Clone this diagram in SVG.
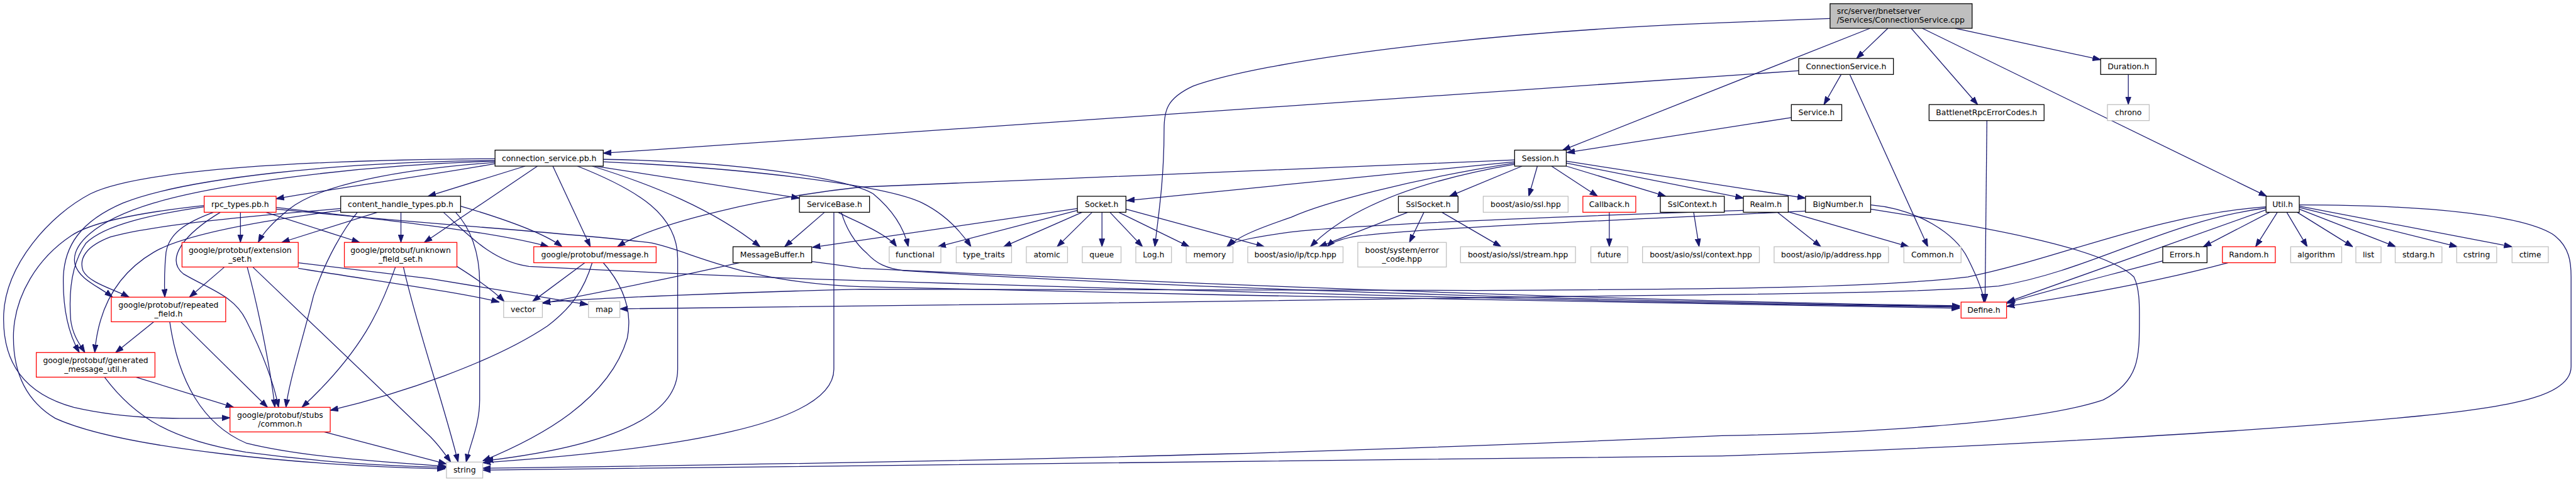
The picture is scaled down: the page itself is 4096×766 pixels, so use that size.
<svg xmlns="http://www.w3.org/2000/svg" width="4096" height="766" viewBox="0 0 4096 766">
<defs>
<style>
.n rect{fill:#fff;stroke:#000;stroke-width:1.3}
.n.r rect{stroke:#ff0000}
.n.g rect{stroke:#bfbfbf}
.n.root rect{fill:#bfbfbf;stroke:#000}
.n text{font-family:"DejaVu Sans","Liberation Sans",sans-serif;font-size:12.7px;text-anchor:middle;fill:#000}
.n.root text{text-anchor:start}
#edges path{fill:none;stroke:#191970;stroke-width:1.3;marker-end:url(#a)}
</style>
<marker id="a" markerWidth="13" markerHeight="10" refX="13" refY="5" orient="auto" markerUnits="userSpaceOnUse">
<path d="M0,0.5 L13,5 L0,9.5 z" fill="#191970" stroke="#191970" stroke-width="1"/>
</marker>
</defs>
<rect width="4096" height="766" fill="#fff"/>
<g transform="scale(0.9778)">
<g id="edges">
<path d="M3070,46 L3019,95"/>
<path d="M3108,46 L3216,170"/>
<path d="M3179,46 L3416,97"/>
<path d="M3126,46 L3686,319"/>
<path d="M3041,46 L2541,244"/>
<path d="M2976,30 L2800,37 C2400,52 2050,100 1940,140 C1897,160 1893,180 1893,210 C1893,300 1882,360 1878,401"/>
<path d="M2925,115 L981,249"/>
<path d="M2994,121 L2966,170"/>
<path d="M3008,121 L3135,401"/>
<path d="M2913,191 L2548,248"/>
<path d="M3461,121 L3461,170"/>
<path d="M3231,196 L3228,491"/>
<path d="M854,270 L696,319"/>
<path d="M874,270 L690,394"/>
<path d="M899,270 L960,401"/>
<path d="M939,270 C1040,310 1102,350 1102,420 L1102,600 C1102,690 950,730 789,749"/>
<path d="M963,270 C1060,300 1160,340 1236,401"/>
<path d="M968,270 L1300,322"/>
<path d="M981,259 C1200,262 1380,290 1420,315 C1450,340 1470,370 1477,401"/>
<path d="M981,263 C1250,275 1450,305 1500,330 C1540,350 1565,380 1579,401"/>
<path d="M805,266 C700,285 550,305 449,323"/>
<path d="M805,264 C650,275 520,300 470,340 C445,360 428,378 420,394"/>
<path d="M805,261 C550,263 300,290 200,330 C130,360 105,400 103,450 C102,500 110,540 129,573"/>
<path d="M805,262 C580,268 350,300 250,330 C150,360 115,400 122,430 C130,455 160,465 183,483"/>
<path d="M805,258 C500,260 230,275 147,315 C80,350 10,430 6,510 C3,590 40,640 120,662 C220,685 320,680 374,679"/>
<path d="M391,344 L391,394"/>
<path d="M429,344 L585,394"/>
<path d="M350,344 C300,362 275,380 270,410 C267,440 267,460 268,483"/>
<path d="M360,344 C300,380 268,420 298,445 C340,470 380,480 400,520 C425,570 445,620 453,662"/>
<path d="M332,336 C250,348 170,365 140,395 C115,430 112,480 115,520 C118,545 130,560 138,573"/>
<path d="M332,334 C230,345 150,360 116,383 C60,420 25,480 22,540 C20,600 40,650 90,680 C200,730 500,757 724,762"/>
<path d="M449,337 C600,355 800,375 892,401"/>
<path d="M449,340 C700,365 950,380 1060,395 C1130,410 1200,458 1400,466 C2000,480 2700,495 3187,501"/>
<path d="M617,344 L458,394"/>
<path d="M652,344 L652,394"/>
<path d="M582,344 C560,370 530,420 510,480 C490,560 470,620 465,662"/>
<path d="M554,342 C430,358 300,380 250,410 C190,445 160,500 154,573"/>
<path d="M554,339 C420,350 250,365 180,385 C140,400 128,420 135,440 C145,460 185,470 210,483"/>
<path d="M740,344 C765,370 780,410 780,460 L780,650 C780,690 765,720 758,751"/>
<path d="M749,335 C800,350 880,375 914,401"/>
<path d="M720,344 C760,380 800,425 860,433 C1000,440 1200,450 1400,456 C2000,475 2700,493 3187,499"/>
<path d="M365,434 L308,483"/>
<path d="M402,434 C420,500 440,600 447,662"/>
<path d="M411,434 L700,710 C715,725 725,740 733,751"/>
<path d="M485,436 C600,455 750,475 812,491"/>
<path d="M485,427 L700,453 L956,495"/>
<path d="M643,434 C620,500 590,570 491,662"/>
<path d="M656,434 C680,540 720,650 745,751"/>
<path d="M743,433 C770,450 800,470 820,490"/>
<path d="M951,427 L866,490"/>
<path d="M963,427 C950,470 930,500 890,530 C800,590 650,640 537,667"/>
<path d="M981,427 C1010,460 1030,500 1020,550 C990,650 880,710 785,749"/>
<path d="M1202,427 C1100,450 950,480 882,493"/>
<path d="M1320,425 C1360,430 1380,433 1400,436 C2000,465 2700,490 3187,497"/>
<path d="M1342,344 L1276,401"/>
<path d="M1356,344 L1356,600 C1356,690 1100,730 785,752"/>
<path d="M1361,344 C1375,352 1395,360 1410,368 C1430,378 1450,390 1458,401"/>
<path d="M1368,344 C1375,370 1390,395 1410,412 C1425,428 1440,436 1470,440 C1900,468 2600,490 3187,498"/>
<path d="M1752,339 L1321,402"/>
<path d="M1752,342 L1525,401"/>
<path d="M1762,344 L1632,401"/>
<path d="M1777,344 L1719,401"/>
<path d="M1792,344 L1792,401"/>
<path d="M1804,344 L1858,401"/>
<path d="M1817,344 L1934,401"/>
<path d="M1831,340 L2056,401"/>
<path d="M2463,260 L1400,304 C1250,320 1070,360 1004,401"/>
<path d="M2463,263 L1832,326"/>
<path d="M2463,265 C2300,290 2150,330 2100,353 C2050,370 2010,385 1998,401"/>
<path d="M2463,267 C2330,290 2200,330 2131,401"/>
<path d="M2475,270 L2357,319"/>
<path d="M2500,270 L2486,319"/>
<path d="M2523,270 L2598,319"/>
<path d="M2547,270 L2709,319"/>
<path d="M2547,265 L2835,322"/>
<path d="M2547,262 L2936,322"/>
<path d="M2292,344 L2145,401"/>
<path d="M2316,344 L2292,394"/>
<path d="M2343,344 L2441,401"/>
<path d="M2617,344 L2617,401"/>
<path d="M2754,344 L2763,401"/>
<path d="M2835,342 C2600,350 2200,365 2100,377 C2040,385 2005,392 1995,401"/>
<path d="M2889,344 L2961,401"/>
<path d="M2907,344 L3104,401"/>
<path d="M2936,343 C2700,355 2300,370 2200,385 C2175,390 2163,396 2158,401"/>
<path d="M3042,333 C3120,340 3180,380 3200,420 C3220,460 3226,480 3226,491"/>
<path d="M3042,340 C3200,365 3420,400 3470,450 C3480,470 3479,500 3479,520 C3479,580 3479,620 3420,650 C3300,690 3000,705 2800,708 C2300,730 1800,748 785,761"/>
<path d="M3739,333 C3950,333 4100,350 4150,380 C4180,400 4181,430 4181,450 L4181,596 C4181,640 4100,660 3935,676 C3700,700 3200,728 2800,741 L785,764"/>
<path d="M3688,340 L3264,491"/>
<path d="M3685,336 C3500,350 3350,420 3200,450 C3050,468 2800,470 2400,472 C2000,474 1600,468 1400,470 C1200,475 950,485 882,492"/>
<path d="M3685,338 C3520,360 3400,440 3250,465 C3100,478 2800,478 2400,484 C2000,490 1400,498 1008,502"/>
<path d="M3693,344 L3583,401"/>
<path d="M3704,344 L3668,401"/>
<path d="M3718,344 L3752,401"/>
<path d="M3734,344 L3826,401"/>
<path d="M3739,340 L3896,401"/>
<path d="M3739,337 L3996,401"/>
<path d="M3739,335 L4085,401"/>
<path d="M3517,424 C3400,455 3300,480 3263,493"/>
<path d="M3623,427 C3500,460 3350,485 3263,498"/>
<path d="M250,523 L188,573"/>
<path d="M294,523 L435,662"/>
<path d="M276,523 C290,620 330,690 400,720 C500,745 650,752 726,758"/>
<path d="M221,613 L380,662"/>
<path d="M170,613 C220,680 280,715 400,735 C550,755 650,757 726,760"/>
<path d="M527,702 L726,754"/>
</g>
<g id="root" class="n root"><rect x="2976" y="6" width="231" height="40"/><text x="2987" y="22">src/server/bnetserver</text><text x="2987" y="37">/Services/ConnectionService.cpp</text></g>
<g id="CSh" class="n"><rect x="2925" y="95" width="154" height="26"/><text x="3002" y="112.5">ConnectionService.h</text></g>
<g id="Dur" class="n"><rect x="3416" y="95" width="90" height="26"/><text x="3461" y="112.5">Duration.h</text></g>
<g id="Svc" class="n"><rect x="2913" y="170" width="82" height="26"/><text x="2954" y="187.5">Service.h</text></g>
<g id="BRE" class="n"><rect x="3137" y="170" width="187" height="26"/><text x="3230.5" y="187.5">BattlenetRpcErrorCodes.h</text></g>
<g id="chrono" class="n g"><rect x="3427" y="170" width="68" height="26"/><text x="3461" y="187.5">chrono</text></g>
<g id="CSpb" class="n"><rect x="805" y="244" width="176" height="26"/><text x="893" y="261.5">connection_service.pb.h</text></g>
<g id="Sess" class="n"><rect x="2463" y="244" width="84" height="26"/><text x="2505" y="261.5">Session.h</text></g>
<g id="rpc" class="n r"><rect x="332" y="319" width="117" height="26"/><text x="390.5" y="336.5">rpc_types.pb.h</text></g>
<g id="cht" class="n"><rect x="554" y="319" width="195" height="26"/><text x="651.5" y="336.5">content_handle_types.pb.h</text></g>
<g id="SB" class="n"><rect x="1300" y="319" width="114" height="26"/><text x="1357" y="336.5">ServiceBase.h</text></g>
<g id="Sock" class="n"><rect x="1752" y="319" width="79" height="26"/><text x="1791.5" y="336.5">Socket.h</text></g>
<g id="SslS" class="n"><rect x="2274" y="319" width="97" height="26"/><text x="2322.5" y="336.5">SslSocket.h</text></g>
<g id="ssl" class="n g"><rect x="2412" y="319" width="138" height="26"/><text x="2481" y="336.5">boost/asio/ssl.hpp</text></g>
<g id="Cb" class="n r"><rect x="2574" y="319" width="86" height="26"/><text x="2617" y="336.5">Callback.h</text></g>
<g id="SslC" class="n"><rect x="2700" y="319" width="104" height="26"/><text x="2752" y="336.5">SslContext.h</text></g>
<g id="Realm" class="n"><rect x="2835" y="319" width="73" height="26"/><text x="2871.5" y="336.5">Realm.h</text></g>
<g id="BN" class="n"><rect x="2936" y="319" width="106" height="26"/><text x="2989" y="336.5">BigNumber.h</text></g>
<g id="Util" class="n"><rect x="3685" y="319" width="54" height="26"/><text x="3712" y="336.5">Util.h</text></g>
<g id="ext" class="n r"><rect x="296" y="394" width="189" height="40"/><text x="390.5" y="411">google/protobuf/extension</text><text x="390.5" y="425">_set.h</text></g>
<g id="unk" class="n r"><rect x="560" y="394" width="183" height="40"/><text x="651.5" y="411">google/protobuf/unknown</text><text x="651.5" y="425">_field_set.h</text></g>
<g id="msg" class="n r"><rect x="868" y="401" width="199" height="26"/><text x="967.5" y="418.5">google/protobuf/message.h</text></g>
<g id="MB" class="n"><rect x="1192" y="401" width="128" height="26"/><text x="1256" y="418.5">MessageBuffer.h</text></g>
<g id="functional" class="n g"><rect x="1446" y="401" width="84" height="26"/><text x="1488" y="418.5">functional</text></g>
<g id="type_traits" class="n g"><rect x="1555" y="401" width="90" height="26"/><text x="1600" y="418.5">type_traits</text></g>
<g id="atomic" class="n g"><rect x="1669" y="401" width="67" height="26"/><text x="1702.5" y="418.5">atomic</text></g>
<g id="queue" class="n g"><rect x="1760" y="401" width="63" height="26"/><text x="1791.5" y="418.5">queue</text></g>
<g id="Log" class="n g"><rect x="1847" y="401" width="58" height="26"/><text x="1876" y="418.5">Log.h</text></g>
<g id="memory" class="n g"><rect x="1929" y="401" width="76" height="26"/><text x="1967" y="418.5">memory</text></g>
<g id="tcp" class="n g"><rect x="2029" y="401" width="155" height="26"/><text x="2106.5" y="418.5">boost/asio/ip/tcp.hpp</text></g>
<g id="errc" class="n g"><rect x="2208" y="394" width="144" height="40"/><text x="2280" y="411">boost/system/error</text><text x="2280" y="425">_code.hpp</text></g>
<g id="stream" class="n g"><rect x="2375" y="401" width="187" height="26"/><text x="2468.5" y="418.5">boost/asio/ssl/stream.hpp</text></g>
<g id="future" class="n g"><rect x="2587" y="401" width="60" height="26"/><text x="2617" y="418.5">future</text></g>
<g id="ctx" class="n g"><rect x="2671" y="401" width="190" height="26"/><text x="2766" y="418.5">boost/asio/ssl/context.hpp</text></g>
<g id="addr" class="n g"><rect x="2885" y="401" width="186" height="26"/><text x="2978" y="418.5">boost/asio/ip/address.hpp</text></g>
<g id="Common" class="n g"><rect x="3096" y="401" width="93" height="26"/><text x="3142.5" y="418.5">Common.h</text></g>
<g id="Errors" class="n"><rect x="3517" y="401" width="72" height="26"/><text x="3553" y="418.5">Errors.h</text></g>
<g id="Random" class="n r"><rect x="3614" y="401" width="86" height="26"/><text x="3657" y="418.5">Random.h</text></g>
<g id="algorithm" class="n g"><rect x="3725" y="401" width="83" height="26"/><text x="3766.5" y="418.5">algorithm</text></g>
<g id="list" class="n g"><rect x="3831" y="401" width="41" height="26"/><text x="3851.5" y="418.5">list</text></g>
<g id="stdarg" class="n g"><rect x="3895" y="401" width="76" height="26"/><text x="3933" y="418.5">stdarg.h</text></g>
<g id="cstring" class="n g"><rect x="3995" y="401" width="65" height="26"/><text x="4027.5" y="418.5">cstring</text></g>
<g id="ctime" class="n g"><rect x="4085" y="401" width="59" height="26"/><text x="4114.5" y="418.5">ctime</text></g>
<g id="rep" class="n r"><rect x="181" y="483" width="186" height="40"/><text x="274" y="500">google/protobuf/repeated</text><text x="274" y="514">_field.h</text></g>
<g id="vector" class="n g"><rect x="819" y="490" width="63" height="26"/><text x="850.5" y="507.5">vector</text></g>
<g id="map" class="n g"><rect x="957" y="490" width="51" height="26"/><text x="982.5" y="507.5">map</text></g>
<g id="Define" class="n r"><rect x="3189" y="491" width="74" height="26"/><text x="3226" y="508.5">Define.h</text></g>
<g id="gen" class="n r"><rect x="59" y="573" width="193" height="40"/><text x="155.5" y="590">google/protobuf/generated</text><text x="155.5" y="604">_message_util.h</text></g>
<g id="common" class="n r"><rect x="374" y="662" width="163" height="40"/><text x="455.5" y="679">google/protobuf/stubs</text><text x="455.5" y="693">/common.h</text></g>
<g id="string" class="n g"><rect x="726" y="751" width="59" height="26"/><text x="755.5" y="768.5">string</text></g>
</g>
</svg>
